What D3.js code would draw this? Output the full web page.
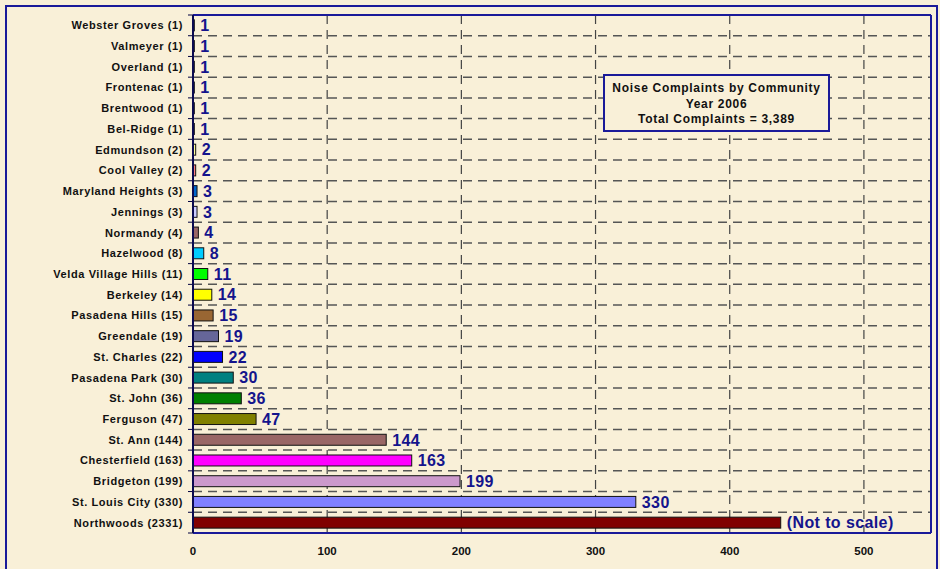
<!DOCTYPE html>
<html>
<head>
<meta charset="utf-8">
<script src="https://cdn.jsdelivr.net/npm/d3@7"></script>
<style>
  html, body { margin: 0; padding: 0; background: #f9f0d8; }
  svg { display: block; font-family: "Liberation Sans", Arial, sans-serif; }
</style>
</head>
<body>
<div id="chart"></div>
<script>
// communities, top to bottom
var communities = ["Webster Groves", "Valmeyer", "Overland", "Frontenac", "Brentwood", "Bel-Ridge",
  "Edmundson", "Cool Valley", "Maryland Heights", "Jennings", "Normandy", "Hazelwood",
  "Velda Village Hills", "Berkeley", "Pasadena Hills", "Greendale", "St. Charles", "Pasadena Park",
  "St. John", "Ferguson", "St. Ann", "Chesterfield", "Bridgeton", "St. Louis City", "Northwoods"];
var complaints = [1, 1, 1, 1, 1, 1, 2, 2, 3, 3, 4, 8, 11, 14, 15, 19, 22, 30, 36, 47, 144, 163, 199, 330, 2331];
// length actually drawn (Northwoods is cut, not to scale)
var drawnLength = [1, 1, 1, 1, 1, 1, 2, 2, 3, 3, 4, 8, 11, 14, 15, 19, 22, 30, 36, 47, 144, 163, 199, 330, 438];
var barColors = ["#9999ff", "#9999ff", "#9999ff", "#9999ff", "#9999ff", "#9999ff",
  "#ffff99", "#ff8080", "#0066cc", "#ccccff", "#996666", "#00ccff",
  "#00ff00", "#ffff00", "#996633", "#666699", "#0000ff", "#008080",
  "#008000", "#808000", "#996666", "#ff00ff", "#cc99cc", "#8080ff", "#800000"];
var xTicks = [0, 100, 200, 300, 400, 500];
var boxLines = ["Noise Complaints by Community", "Year 2006", "Total Complaints = 3,389"];

var width = 940, height = 569;
var pLeft = 193, pRight = 931, pTop = 15, pBottom = 533;

var svg = d3.select("#chart").append("svg")
    .attr("width", width)
    .attr("height", height);

svg.append("rect").attr("width", width).attr("height", height).attr("fill", "#f9f0d8");

// outer frame
svg.append("rect")
    .attr("x", 6).attr("y", 6).attr("width", 931).attr("height", 620)
    .attr("fill", "none").attr("stroke", "#1a1a99").attr("stroke-width", 2);

var x = d3.scaleLinear().domain([0, 550]).range([pLeft, pRight]);
var y = d3.scaleBand().domain(communities).range([pTop, pBottom]).paddingInner(0.47).paddingOuter(0.235);
var step = (pBottom - pTop) / communities.length;

var g = svg.append("g");

// horizontal dashed gridlines at category boundaries
g.append("g").selectAll("line").data(d3.range(1, communities.length)).join("line")
    .attr("x1", pLeft).attr("x2", pRight)
    .attr("y1", d => pTop + d * step).attr("y2", d => pTop + d * step)
    .attr("stroke", "#555").attr("stroke-width", 1.5)
    .attr("stroke-dasharray", "9,6");

// vertical dashed gridlines
g.append("g").selectAll("line").data(xTicks.slice(1)).join("line")
    .attr("x1", d => x(d)).attr("x2", d => x(d))
    .attr("y1", pTop).attr("y2", pBottom)
    .attr("stroke", "#444").attr("stroke-width", 1.2)
    .attr("stroke-dasharray", "9,6");

// y ticks
g.append("g").selectAll("line").data(d3.range(0, communities.length + 1)).join("line")
    .attr("x1", pLeft - 5).attr("x2", pLeft)
    .attr("y1", d => pTop + d * step).attr("y2", d => pTop + d * step)
    .attr("stroke", "#000040").attr("stroke-width", 1);

// bars
g.append("g").selectAll("rect").data(communities).join("rect")
    .attr("x", pLeft)
    .attr("y", d => y(d))
    .attr("width", (d, i) => x(drawnLength[i]) - x(0))
    .attr("height", y.bandwidth())
    .attr("fill", (d, i) => barColors[i])
    .attr("stroke", "#111").attr("stroke-width", 1);

// value labels
g.append("g").selectAll("text").data(communities).join("text")
    .attr("x", (d, i) => x(drawnLength[i]) + 6)
    .attr("y", d => y(d) + y.bandwidth() / 2)
    .attr("dy", "0.36em")
    .attr("fill", "#14148c")
    .style("font-size", "16px").style("font-weight", "bold")
    .style("letter-spacing", "0.4px")
    .text((d, i) => i === communities.length - 1 ? "(Not to scale)" : complaints[i]);

// category labels
g.append("g").selectAll("text").data(communities).join("text")
    .attr("x", pLeft - 10)
    .attr("y", d => y(d) + y.bandwidth() / 2)
    .attr("dy", "0.36em")
    .attr("text-anchor", "end")
    .attr("fill", "#111")
    .style("font-size", "11px").style("font-weight", "bold")
    .style("letter-spacing", "0.6px")
    .text((d, i) => d + " (" + complaints[i] + ")");

// x tick labels
g.append("g").selectAll("text").data(xTicks).join("text")
    .attr("x", d => x(d))
    .attr("y", 555)
    .attr("text-anchor", "middle")
    .attr("fill", "#111")
    .style("font-size", "11.5px").style("font-weight", "bold")
    .text(d => d);

// plot frame
svg.append("line").attr("x1", pLeft).attr("x2", pRight).attr("y1", pTop).attr("y2", pTop)
    .attr("stroke", "#1a1a99").attr("stroke-width", 2);
svg.append("line").attr("x1", pRight).attr("x2", pRight).attr("y1", pTop).attr("y2", pBottom)
    .attr("stroke", "#1a1a99").attr("stroke-width", 2);
svg.append("line").attr("x1", pLeft).attr("x2", pRight).attr("y1", pBottom).attr("y2", pBottom)
    .attr("stroke", "#1a1a99").attr("stroke-width", 2);
svg.append("line").attr("x1", pLeft).attr("x2", pLeft).attr("y1", pTop).attr("y2", pBottom)
    .attr("stroke", "#0a0a50").attr("stroke-width", 2);

// title box
var box = svg.append("g");
box.append("rect")
    .attr("x", 604).attr("y", 75).attr("width", 225).attr("height", 56)
    .attr("fill", "#f9f0d8").attr("stroke", "#1a1a99").attr("stroke-width", 2);
box.selectAll("text").data(boxLines).join("text")
    .attr("x", 716.5)
    .attr("y", (d, i) => 92 + i * 15.7)
    .attr("text-anchor", "middle")
    .attr("fill", "#111")
    .style("font-size", "12px").style("font-weight", "bold")
    .style("letter-spacing", "0.7px")
    .text(d => d);
</script>
</body>
</html>
